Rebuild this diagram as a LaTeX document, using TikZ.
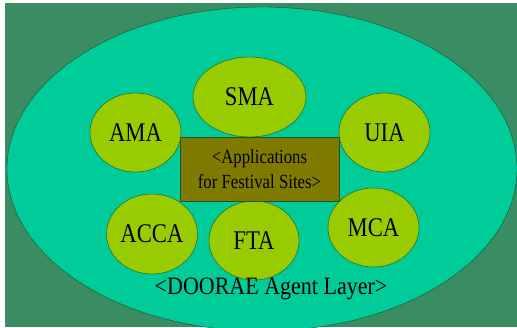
\documentclass[tikz,border=0pt]{standalone}
\usepackage{fontspec}
\setmainfont{Liberation Serif}
\usepackage{graphicx}
\usepackage{tikz}
\usetikzlibrary{shapes}
\usetikzlibrary{shapes.geometric}

\definecolor{bggreen}{RGB}{58,140,98}
\definecolor{layerfill}{RGB}{0,204,153}
\definecolor{agentfill}{RGB}{153,204,0}
\definecolor{appfill}{RGB}{128,122,0}
\definecolor{edgegreen}{RGB}{30,82,44}

\newcommand{\narrow}[1]{\scalebox{0.84}[1]{#1}}

\begin{document}
\begin{tikzpicture}[x=1pt,y=-1pt,
  agent/.style={ellipse, draw=edgegreen, fill=agentfill, inner sep=0pt,
    minimum width=91pt, minimum height=79pt, font=\fontsize{27}{27}\selectfont},
  appbox/.style={rectangle, draw=edgegreen, fill=appfill, inner sep=0pt,
    minimum width=159pt, minimum height=64pt, align=center,
    font=\fontsize{20}{25}\selectfont}]

%Background
\useasboundingbox (0,0) rectangle (517,328);
\clip (0,0) rectangle (517,328);
\fill [white] (0,0) rectangle (517,328);
\fill [bggreen] (5,3) rectangle (517,327);

%Agent Layer
\node [ellipse, draw=edgegreen, fill=layerfill, minimum width=510pt,
  minimum height=324pt, inner sep=0pt] (layer) at (262,169) {};

%Agents
\node [agent, minimum width=113pt, minimum height=80pt] (sma) at (249.5,97) {\narrow{SMA}};
\node [agent] (ama) at (135.5,132.5) {\narrow{AMA}};
\node [agent] (uia) at (384.5,132.5) {\narrow{UIA}};
\node [agent, minimum height=80pt] (acca) at (152,234) {\narrow{ACCA}};
\node [agent, minimum width=90pt] (fta) at (254,240.5) {\narrow{FTA}};
\node [agent] (mca) at (373.5,227.5) {\narrow{MCA}};

%Applications
\node [appbox] (apps) at (259.5,169)
  {\narrow{<Applications}\\\narrow{for Festival Sites>}};

%Label
\node [font=\fontsize{25}{25}\selectfont] (label) at (271,289)
  {\scalebox{0.88}[1]{<DOORAE Agent Layer>}};

\end{tikzpicture}
\end{document}
